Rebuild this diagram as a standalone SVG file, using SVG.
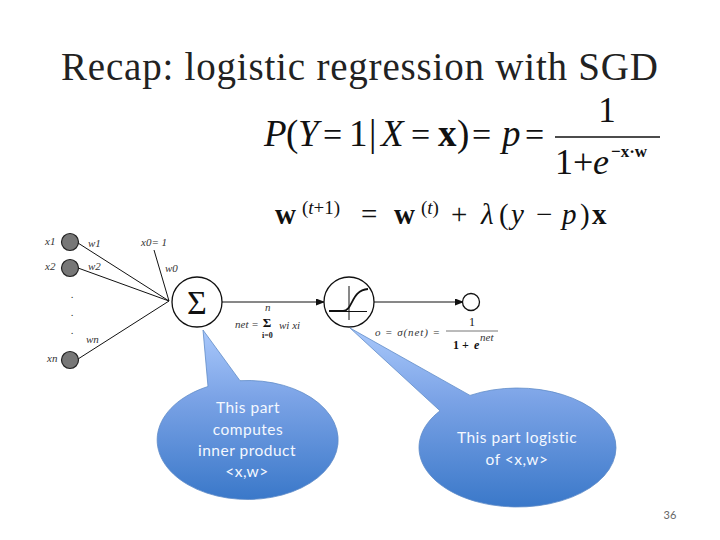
<svg xmlns="http://www.w3.org/2000/svg" width="720" height="540" viewBox="0 0 720 540">
<style>
.m{font-family:"Liberation Serif",serif;fill:#111}
.i{font-style:italic}
.b{font-weight:bold}
.f1{font-size:37px}
.f2{font-size:29px}
.f3{font-size:19px}
.e{font-size:34px}
.c{font-family:Lato,"Liberation Sans",sans-serif;font-size:15.500px;letter-spacing:.5px;fill:#f4f8ff;text-anchor:middle}
.l{stroke:#111;fill:none;stroke-width:1}
.n{fill:#777;stroke:#222;stroke-width:1.2}
.o{fill:#fff;stroke:#111;stroke-width:1.3}
.s{font-family:"Liberation Serif",serif;font-style:italic;font-size:11px;fill:#333}
.call{fill:url(#g);stroke:#5f8cc8;stroke-width:.8}
</style>
<defs>
<linearGradient id="g" x1="0" y1="0" x2="0" y2="1"><stop offset="0" stop-color="#a9c8fb"/><stop offset=".4" stop-color="#7ba3e6"/><stop offset="1" stop-color="#3a78c9"/></linearGradient>
<marker id="a" markerWidth="9" markerHeight="7" refX="8" refY="3.500" orient="auto" markerUnits="userSpaceOnUse"><path d="M0 0L9 3.500L0 7z" fill="#111"/></marker>
</defs>
<rect width="720" height="540" fill="#fff"/>
<text id="title" x="61" y="80" font-family="Liberation Serif, serif" font-size="39" fill="#222" textLength="597" lengthAdjust="spacing">Recap: logistic regression with SGD</text>

<g id="formula1">
<text class="m f1 i" x="264" y="146">P</text>
<text class="m f1" x="286" y="146">(</text>
<text class="m f1 i" x="298" y="146">Y</text>
<text class="m e" x="323" y="146">=</text>
<text class="m f1" x="349" y="146">1</text>
<text class="m f1" x="369" y="146">|</text>
<text class="m f1 i" x="381" y="146">X</text>
<text class="m e" x="411" y="146">=</text>
<text class="m f1 b" x="438" y="146">x</text>
<text class="m f1" x="457" y="146">)</text>
<text class="m e" x="472" y="146">=</text>
<text class="m f1 i" x="502" y="146">p</text>
<text class="m e" x="525" y="146">=</text>
<text class="m" x="607" y="122" font-size="35" text-anchor="middle">1</text>
<line x1="555" y1="137" x2="660" y2="137" stroke="#111" stroke-width="1.500"/>
<text class="m" x="555" y="174" font-size="36">1+</text>
<text class="m i" x="593" y="174" font-size="36">e</text>
<text class="m b" x="611" y="157" font-size="17">−x·w</text>
</g>
<g id="formula2">
<text class="m f2 b" x="275" y="224">w</text>
<text class="m f3" x="302" y="214">(<tspan class="i">t</tspan>+1)</text>
<text class="m f2" x="361" y="224">=</text>
<text class="m f2 b" x="394" y="224">w</text>
<text class="m f3" x="421" y="214">(<tspan class="i">t</tspan>)</text>
<text class="m f2" x="451" y="224">+</text>
<text class="m f2 i" x="481" y="224">λ</text>
<text class="m f2" x="499" y="224">(</text>
<text class="m f2 i" x="511" y="224">y</text>
<text class="m f2" x="536" y="224">−</text>
<text class="m f2 i" x="562" y="224">p</text>
<text class="m f2" x="580" y="224">)</text>
<text class="m f2 b" x="592" y="224">x</text>
</g>

<g id="connectors">
<line class="l" x1="78" y1="243" x2="169" y2="301"/>
<line class="l" x1="78" y1="268" x2="169" y2="301"/>
<line class="l" x1="78" y1="359" x2="169" y2="301"/>
<line class="l" x1="154" y1="250" x2="169" y2="301"/>
<line class="l" x1="222" y1="302" x2="324" y2="302" stroke-width="1.400" marker-end="url(#a)"/>
<line class="l" x1="374" y1="302" x2="463" y2="302" stroke-width="1.400" marker-end="url(#a)"/>
</g>

<g id="x1"><circle class="n" cx="70" cy="242" r="8.500"/><text class="s" x="45" y="245">x1</text><text class="s" x="88" y="247">w1</text></g>
<g id="x2"><circle class="n" cx="70" cy="268" r="8.500"/><text class="s" x="45" y="270">x2</text><text class="s" x="88" y="270">w2</text></g>
<g id="dots"><text class="s" x="71" y="298">.</text><text class="s" x="71" y="316">.</text><text class="s" x="71" y="334">.</text></g>
<g id="xn"><circle class="n" cx="70" cy="360" r="8.500"/><text class="s" x="47" y="362">xn</text><text class="s" x="86" y="343">wn</text></g>
<g id="x0"><text class="s" x="141" y="246">x0= 1</text><text class="s" x="165" y="272">w0</text></g>
<g id="sum"><circle class="o" cx="197" cy="302" r="25"/><text class="m" x="197" y="314" font-size="34" text-anchor="middle">Σ</text><text class="s" x="235" y="328" font-size="12">net =</text><text class="s" x="265" y="311" font-size="6">n</text><text class="m b" x="267" y="327" font-size="13" text-anchor="middle">Σ</text><text class="m b" x="262" y="338" font-size="8">i=0</text><text class="s" x="279" y="329" font-size="15">wi xi</text></g>
<g id="activation"><circle class="o" cx="349" cy="302" r="25"/><path class="l" d="M349 286V320M329 311.500H367"/><path d="M329 311H343C353 311 351 290 368 289" fill="none" stroke="#111" stroke-width="1.800"/></g>
<g id="output"><circle class="o" cx="471" cy="302" r="8.500" stroke-width="1"/><text class="s" x="375" y="336" font-size="12.500" textLength="65">o = σ(net) =</text><text class="m" x="472" y="326" font-size="12" text-anchor="middle">1</text><line x1="446" y1="331" x2="498" y2="331" stroke="#777"/><text class="m b" x="453" y="349" font-size="12">1 + </text><text class="m b i" x="474" y="349" font-size="12">e</text><text class="s" x="480" y="341" font-size="7">net</text></g>

<g id="callout1"><path class="call" d="M203 330L240 380.700A90.500 59.500 0 1 1 208 386.500Z"/><text class="c"><tspan x="248" y="413">This part</tspan><tspan x="248" y="435">computes</tspan><tspan x="247" y="456">inner product</tspan><tspan x="247" y="477">&lt;x,w&gt;</tspan></text></g>
<g id="callout2"><path class="call" d="M350 328L470 395.400A98.500 59.500 0 1 1 440 410.800Z"/><text class="c"><tspan x="517" y="443">This part logistic</tspan><tspan x="517" y="465">of &lt;x,w&gt;</tspan></text></g>
<text id="page" x="670" y="519" font-family="Lato, sans-serif" font-size="11" fill="#666" text-anchor="middle">36</text>
</svg>
